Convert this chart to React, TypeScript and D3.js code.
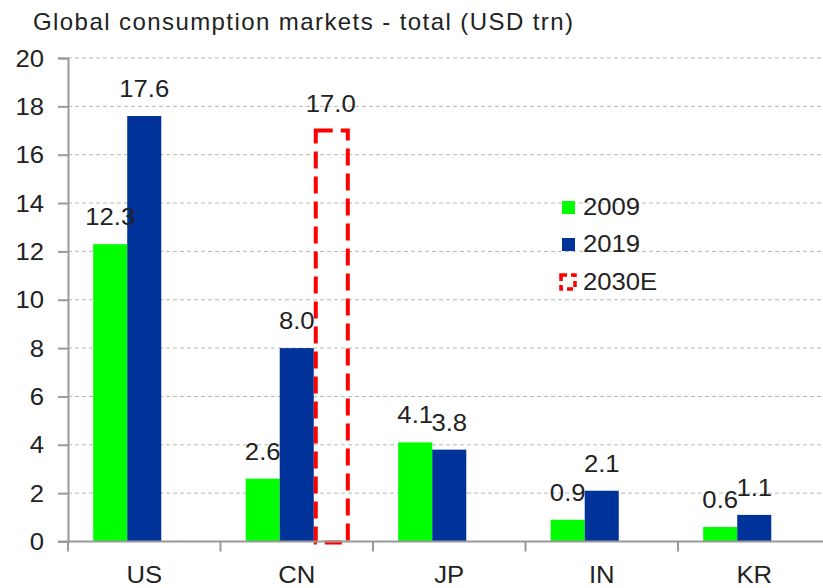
import React, { useEffect, useRef } from 'react';
import * as d3 from 'd3';

const categories = ['US', 'CN', 'JP', 'IN', 'KR'];
const seriesNames = ['2009', '2019', '2030E'];
const values2009 = [12.3, 2.6, 4.1, 0.9, 0.6];
const values2019 = [17.6, 8.0, 3.8, 2.1, 1.1];
const values2030E: (number | null)[] = [null, 17.0, null, null, null];
const yTicks = [0, 2, 4, 6, 8, 10, 12, 14, 16, 18, 20];
const title = 'Global consumption markets - total (USD trn)';

const GREEN = '#00ff00';
const BLUE = '#003399';
const RED = '#ff0000';
const FONT = '"Liberation Sans", Arial, sans-serif';

const App = () => {
  const svgRef = useRef<SVGSVGElement>(null);

  useEffect(() => {
    const svg = d3.select(svgRef.current);
    svg.selectAll('*').remove();

    const stretch = 1.07;
    const addText = (x: number, y: number, str: string, anchor = 'middle') =>
      svg.append('text')
        .attr('transform', `translate(${x},${y}) scale(${stretch},1)`)
        .attr('text-anchor', anchor)
        .attr('font-family', FONT)
        .attr('font-size', 24)
        .attr('fill', '#222')
        .text(str);

    const yScale = d3.scaleLinear().domain([0, 20]).range([541.5, 58]);
    const x0 = d3.scaleBand().domain(categories).range([68, 830.5]).padding(0);
    const x1 = d3.scaleBand().domain(seriesNames).range([0, x0.bandwidth()])
      .paddingInner(0).paddingOuter(0.74);

    // gridlines
    svg.append('g')
      .selectAll('line')
      .data(yTicks.filter(t => t > 0))
      .enter()
      .append('line')
      .attr('x1', 68)
      .attr('x2', 823)
      .attr('y1', d => yScale(d))
      .attr('y2', d => yScale(d))
      .attr('stroke', '#b8b8b8')
      .attr('stroke-width', 1)
      .attr('stroke-dasharray', '4,3');

    // y axis
    const yAxis = svg.append('g')
      .attr('transform', 'translate(68,0)')
      .call(d3.axisLeft(yScale).tickValues(yTicks).tickSize(10).tickPadding(15).tickFormat(d3.format('d')));
    yAxis.select('.domain').attr('stroke', '#999').attr('stroke-width', 2);
    yAxis.selectAll('.tick line').attr('stroke', '#999').attr('stroke-width', 2);
    yAxis.selectAll('.tick text').remove();
    yTicks.forEach(t => {
      addText(44, yScale(t) + 8.5, String(t), 'end');
    });

    // bars
    const rows = [values2009, values2019];
    const colors = [GREEN, BLUE];
    rows.forEach((vals, si) => {
      svg.append('g')
        .selectAll('rect')
        .data(vals)
        .enter()
        .append('rect')
        .attr('x', (d, i) => (x0(categories[i]) as number) + (x1(seriesNames[si]) as number))
        .attr('y', d => yScale(d))
        .attr('width', x1.bandwidth())
        .attr('height', d => yScale(0) - yScale(d))
        .attr('fill', colors[si]);
    });

    // 2030E dashed outline
    values2030E.forEach((v, i) => {
      if (v == null) return;
      const x = (x0(categories[i]) as number) + (x1('2030E') as number);
      svg.append('rect')
        .attr('x', x + 2)
        .attr('y', yScale(v))
        .attr('width', x1.bandwidth() - 2)
        .attr('height', yScale(0) - yScale(v) + 1)
        .attr('fill', 'none')
        .attr('stroke', RED)
        .attr('stroke-width', 4)
        .attr('stroke-dasharray', '17,8');
    });

    // x axis
    const xAxis = svg.append('g')
      .attr('transform', `translate(0,${yScale(0)})`);
    xAxis.append('line')
      .attr('x1', 58).attr('x2', 823)
      .attr('stroke', '#999').attr('stroke-width', 2);
    xAxis.selectAll('.tk')
      .data(categories)
      .enter()
      .append('line')
      .attr('class', 'tk')
      .attr('x1', d => x0(d) as number)
      .attr('x2', d => x0(d) as number)
      .attr('y1', 0).attr('y2', 10)
      .attr('stroke', '#999').attr('stroke-width', 2);
    categories.forEach(c => {
      addText((x0(c) as number) + x0.bandwidth() / 2, 583, c);
    });

    // value labels
    const allRows: (number | null)[][] = [values2009, values2019, values2030E];
    allRows.forEach((vals, si) => {
      vals.forEach((v, i) => {
        if (v == null) return;
        const cx = (x0(categories[i]) as number) + (x1(seriesNames[si]) as number) + x1.bandwidth() / 2;
        addText(cx, yScale(v) - 19, v.toFixed(1));
      });
    });

    // legend
    const legend = svg.append('g').attr('transform', 'translate(562,0)');
    legend.append('rect').attr('x', 0).attr('y', 201).attr('width', 13).attr('height', 13).attr('fill', GREEN);
    legend.append('rect').attr('x', 0).attr('y', 238).attr('width', 13).attr('height', 13).attr('fill', BLUE);
    legend.append('rect').attr('x', -1).attr('y', 275).attr('width', 14).attr('height', 14)
      .attr('fill', 'none').attr('stroke', RED).attr('stroke-width', 3.5).attr('stroke-dasharray', '6,4');
    addText(583, 215, '2009', 'start');
    addText(583, 252, '2019', 'start');
    addText(583, 290, '2030E', 'start');

    // title
    svg.append('text')
      .attr('x', 33)
      .attr('y', 30)
      .attr('font-family', FONT)
      .attr('font-size', 24)
      .attr('fill', '#222')
      .attr('textLength', 540)
      .attr('lengthAdjust', 'spacing')
      .text(title);
  }, []);

  return (
    <svg
      ref={svgRef}
      width={823}
      height={588}
      style={{ position: 'absolute', left: 0, top: 0, background: '#fff' }}
    />
  );
};

export default App;
